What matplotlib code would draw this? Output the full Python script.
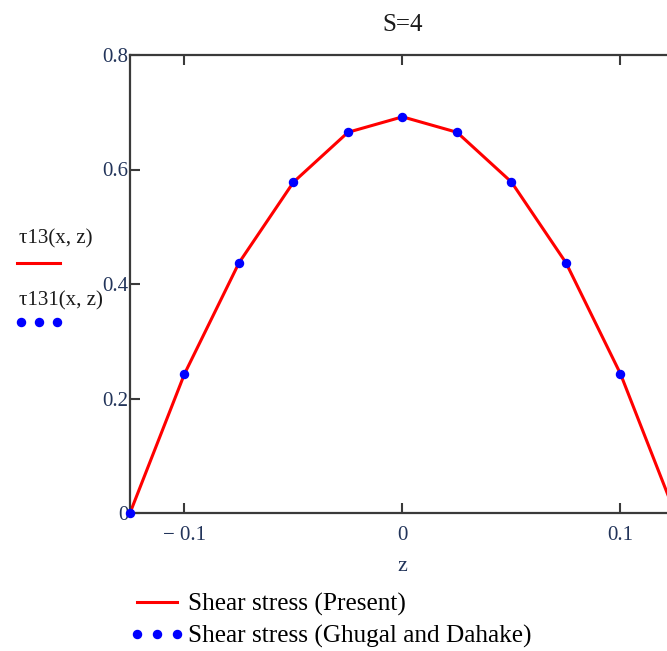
import matplotlib
matplotlib.use("Agg")
import matplotlib.pyplot as plt
from matplotlib.lines import Line2D

# Through-thickness coordinate and transverse shear stress, S = 4
z = [-0.125, -0.1, -0.075, -0.05, -0.025, 0.0, 0.025, 0.05, 0.075, 0.1, 0.125]
tau13_present = [0.0, 0.243, 0.437, 0.578, 0.665, 0.692, 0.665, 0.578, 0.437, 0.243, 0.0]
tau13_ghugal = [0.0, 0.243, 0.437, 0.578, 0.665, 0.692, 0.665, 0.578, 0.437, 0.243, 0.0]

x_ticks = [-0.1, 0.0, 0.1]
x_tick_labels = ["\u2212 0.1", "0", "0.1"]
y_ticks = [0.0, 0.2, 0.4, 0.6, 0.8]
y_tick_labels = ["0", "0.2", "0.4", "0.6", "0.8"]

serif = "Liberation Serif"
tick_color = "#22345a"
axis_color = "#3a3a3a"

W, H = 667, 651
fig = plt.figure(figsize=(W / 100, H / 100), dpi=100)
ax = fig.add_axes([130 / W, 138 / H, 545 / W, 458 / H])

ax.plot(z, tau13_present, color="red", lw=2.2, zorder=2, clip_on=False)
ax.plot(z, tau13_ghugal, linestyle="none", marker="o", ms=5.8,
        color="blue", zorder=3, clip_on=False)

ax.set_xlim(-0.125, 0.125)
ax.set_ylim(0, 0.8)
ax.set_xticks(x_ticks)
ax.set_xticklabels(x_tick_labels)
ax.set_yticks(y_ticks)
ax.set_yticklabels(y_tick_labels)
ax.tick_params(axis="both", direction="in", length=7, width=1.5, color=axis_color,
               labelsize=15, labelcolor=tick_color, top=True, right=False)
for lab in ax.get_xticklabels() + ax.get_yticklabels():
    lab.set_fontfamily(serif)
ax.tick_params(axis="y", pad=1)
ax.tick_params(axis="x", pad=9)
for sp in ax.spines.values():
    sp.set_color(axis_color)
    sp.set_linewidth(1.6)

ax.set_title("S=4", fontfamily=serif, fontsize=18, color="#1a1a1a", pad=17)
ax.set_xlabel("z", fontfamily=serif, fontsize=16, color=tick_color, labelpad=9)

# Trace keys beside the vertical axis
fig.text(19 / W, 1 - 239 / H, "\u03c413(x, z)", fontfamily=serif, fontsize=15,
         color="#1a1a1a", va="center", ha="left")
fig.add_artist(Line2D([17 / W, 60 / W], [1 - 263 / H, 1 - 263 / H],
                      color="red", lw=2.2, transform=fig.transFigure))
fig.text(19 / W, 1 - 301 / H, "\u03c4131(x, z)", fontfamily=serif, fontsize=15,
         color="#1a1a1a", va="center", ha="left")
fig.add_artist(Line2D([21 / W, 39 / W, 57 / W], [1 - 322 / H] * 3,
                      linestyle="none", marker="o", ms=5.8, color="blue",
                      transform=fig.transFigure))

# Legend below the plot
handles = [
    Line2D([0], [0], color="red", lw=2.2),
    Line2D([0], [0], linestyle="none", marker="o", ms=5.8, color="blue"),
]
labels = ["Shear stress (Present)", "Shear stress (Ghugal and Dahake)"]
fig.legend(handles, labels, loc="upper left", bbox_to_anchor=(129 / W, 1 - 593 / H),
           frameon=False, numpoints=3, handlelength=2.2, handletextpad=0.15,
           labelspacing=0.36, borderaxespad=0, borderpad=0,
           prop={"family": serif, "size": 18.2})

fig.savefig("out.png", dpi=100)
